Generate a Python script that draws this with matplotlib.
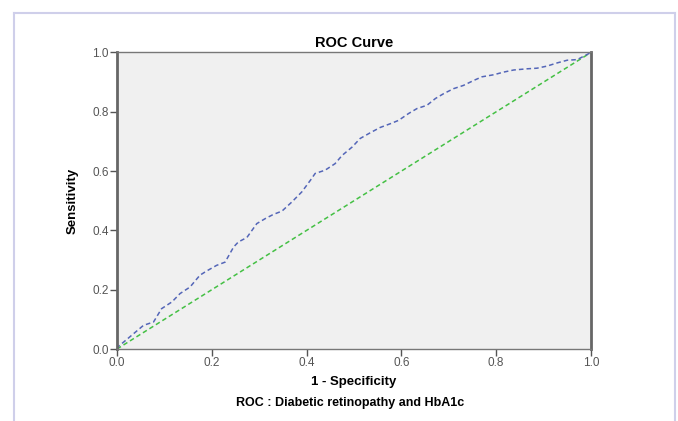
import matplotlib.pyplot as plt
from matplotlib.lines import Line2D

plt.rcParams['font.family'] = ['Liberation Sans', 'DejaVu Sans']

# ROC curve points (1 - specificity, sensitivity)
fpr = [0.0, 0.004, 0.03, 0.056, 0.077, 0.094, 0.116, 0.133, 0.154, 0.175,
       0.189, 0.21, 0.228, 0.246, 0.256, 0.274, 0.295, 0.313, 0.33, 0.348,
       0.369, 0.39, 0.408, 0.418, 0.439, 0.46, 0.475, 0.496, 0.513, 0.534,
       0.555, 0.577, 0.594, 0.615, 0.633, 0.654, 0.672, 0.689, 0.71, 0.731,
       0.753, 0.77, 0.795, 0.816, 0.837, 0.865, 0.886, 0.907, 0.929, 0.95,
       0.971, 1.0]
tpr = [0.0, 0.01, 0.045, 0.08, 0.091, 0.136, 0.159, 0.187, 0.209, 0.249,
       0.263, 0.282, 0.293, 0.344, 0.361, 0.376, 0.423, 0.44, 0.454, 0.465,
       0.496, 0.53, 0.569, 0.592, 0.603, 0.625, 0.653, 0.681, 0.71, 0.729,
       0.747, 0.76, 0.771, 0.794, 0.811, 0.822, 0.845, 0.861, 0.878, 0.889,
       0.906, 0.918, 0.925, 0.934, 0.941, 0.945, 0.947, 0.954, 0.965, 0.974,
       0.976, 1.0]
ref_line = [0.0, 1.0]
ticks = [0.0, 0.2, 0.4, 0.6, 0.8, 1.0]

fig = plt.figure(figsize=(6.78, 4.21), dpi=100)
ax = fig.add_axes([0.1726, 0.171, 0.699, 0.7043])
ax.set_facecolor('#f0f0f0')

ax.plot(ref_line, ref_line, color='#44c044', linestyle=(0, (3, 2)), lw=1.1)
ax.plot(fpr, tpr, color='#5466b8', linestyle=(0, (3, 2)), lw=1.1)

ax.set_xlim(0, 1)
ax.set_ylim(0, 1)
ax.set_xticks(ticks)
ax.set_yticks(ticks)
ax.set_xticklabels([f'{t:.1f}' for t in ticks])
ax.set_yticklabels([f'{t:.1f}' for t in ticks])
ax.tick_params(direction='out', length=5, width=1, colors='#555555',
               labelsize=8.5, labelcolor='#555555', pad=1)

for side in ['left', 'right']:
    ax.spines[side].set_linewidth(2)
    ax.spines[side].set_color('#666666')
for side in ['top', 'bottom']:
    ax.spines[side].set_linewidth(1)
    ax.spines[side].set_color('#777777')

ax.set_title('ROC Curve', fontsize=10.5, fontweight='bold', pad=4)
ax.set_xlabel('1 - Specificity', fontsize=9.5, fontweight='bold', labelpad=5)
ax.set_ylabel('Sensitivity', fontsize=9.5, fontweight='bold', labelpad=10,
              fontstretch='condensed')

fig.text(0.516, 0.043, 'ROC : Diabetic retinopathy and HbA1c', ha='center',
         va='center', fontsize=9, fontweight='bold')

# light frame around the figure
frame = '#cfcfea'
fig.add_artist(Line2D([14 / 678, 14 / 678], [0, 1 - 13 / 421],
                      transform=fig.transFigure, color=frame, lw=1.5))
fig.add_artist(Line2D([14 / 678, 675 / 678], [1 - 13 / 421, 1 - 13 / 421],
                      transform=fig.transFigure, color=frame, lw=1.5))
fig.add_artist(Line2D([675 / 678, 675 / 678], [0, 1 - 13 / 421],
                      transform=fig.transFigure, color=frame, lw=1.5))

fig.savefig('out.png', dpi=100)
